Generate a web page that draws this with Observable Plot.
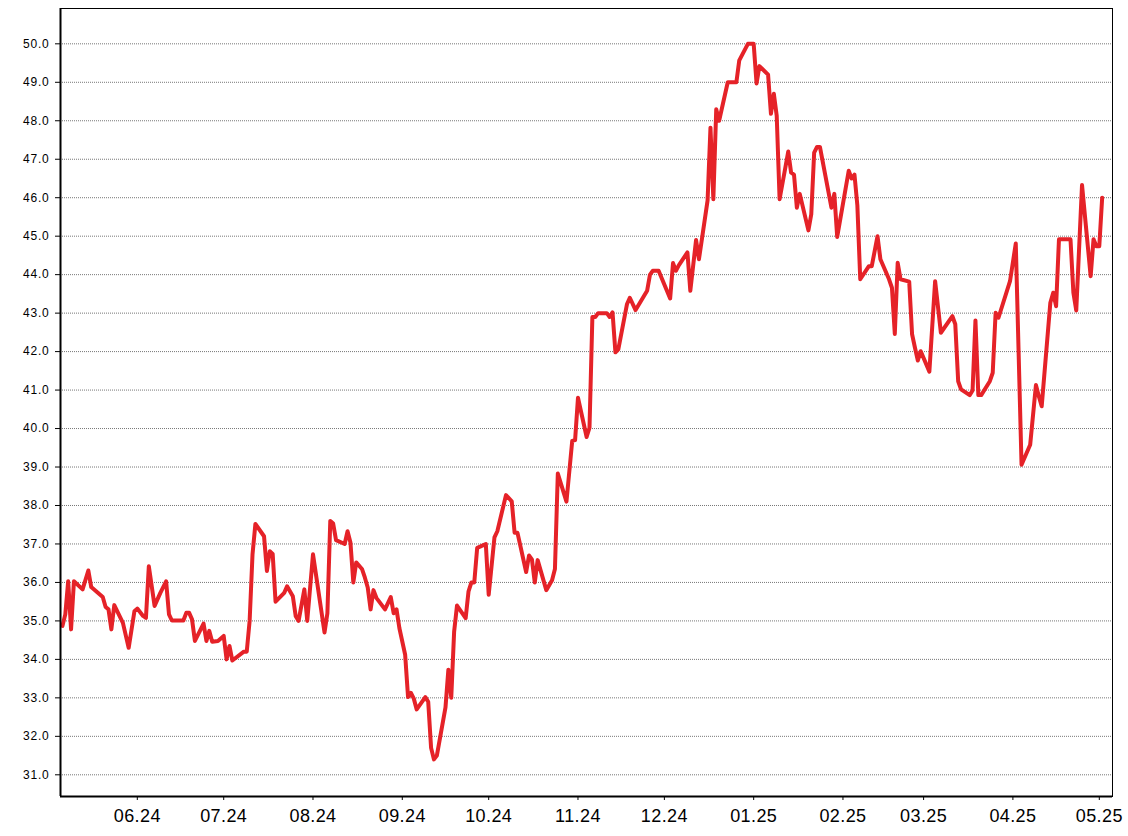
<!DOCTYPE html>
<html>
<head>
<meta charset="utf-8">
<script src="https://cdn.jsdelivr.net/npm/d3@7"></script>
<script src="https://cdn.jsdelivr.net/npm/@observablehq/plot@0.6"></script>
<style>
  html, body { margin: 0; padding: 0; background: #fff; }
  #chart svg { display: block; }
  #chart svg [aria-label="y-axis tick label"] text { letter-spacing: 0.8px; }
  #chart svg [aria-label="x-axis tick label"] text { letter-spacing: 0.4px; }
</style>
</head>
<body>
<div id="chart"></div>
<script>
const dates = [
"2024-05-06","2024-05-07","2024-05-08","2024-05-09","2024-05-10","2024-05-13","2024-05-15","2024-05-16","2024-05-18","2024-05-20",
"2024-05-21","2024-05-22","2024-05-23","2024-05-24","2024-05-27","2024-05-29","2024-05-31","2024-06-01","2024-06-03","2024-06-04",
"2024-06-05","2024-06-07","2024-06-09","2024-06-11","2024-06-12","2024-06-13","2024-06-17","2024-06-18","2024-06-19","2024-06-20",
"2024-06-21","2024-06-24","2024-06-25","2024-06-26","2024-06-27","2024-06-29","2024-07-01","2024-07-02","2024-07-03","2024-07-04",
"2024-07-08","2024-07-09","2024-07-10","2024-07-11","2024-07-12","2024-07-15","2024-07-16","2024-07-17","2024-07-18","2024-07-19",
"2024-07-22","2024-07-23","2024-07-25","2024-07-26","2024-07-27","2024-07-29","2024-07-30","2024-08-01","2024-08-05","2024-08-06",
"2024-08-07","2024-08-08","2024-08-09","2024-08-12","2024-08-13","2024-08-14","2024-08-15","2024-08-16","2024-08-18","2024-08-19",
"2024-08-20","2024-08-21","2024-08-22","2024-08-23","2024-08-26","2024-08-28","2024-08-29","2024-08-30","2024-08-31","2024-09-02",
"2024-09-03","2024-09-04","2024-09-05","2024-09-06","2024-09-09","2024-09-10","2024-09-11","2024-09-12","2024-09-13","2024-09-16",
"2024-09-17","2024-09-18","2024-09-19","2024-09-20","2024-09-23","2024-09-24","2024-09-25","2024-09-26","2024-09-27","2024-09-28",
"2024-09-30","2024-10-01","2024-10-03","2024-10-04","2024-10-07","2024-10-09","2024-10-10","2024-10-11","2024-10-14","2024-10-15",
"2024-10-16","2024-10-17","2024-10-18","2024-10-21","2024-10-23","2024-10-24","2024-10-25","2024-10-28","2024-10-30","2024-10-31",
"2024-11-01","2024-11-04","2024-11-05","2024-11-06","2024-11-07","2024-11-08","2024-11-11","2024-11-12","2024-11-13","2024-11-14",
"2024-11-15","2024-11-18","2024-11-19","2024-11-21","2024-11-25","2024-11-26","2024-11-27","2024-11-29","2024-12-03","2024-12-04",
"2024-12-05","2024-12-06","2024-12-09","2024-12-10","2024-12-12","2024-12-13","2024-12-16","2024-12-17","2024-12-18","2024-12-19",
"2024-12-20","2024-12-23","2024-12-26","2024-12-27","2024-12-30","2025-01-01","2025-01-02","2025-01-03","2025-01-06","2025-01-07",
"2025-01-08","2025-01-09","2025-01-10","2025-01-13","2025-01-14","2025-01-15","2025-01-16","2025-01-17","2025-01-20","2025-01-21",
"2025-01-22","2025-01-23","2025-01-24","2025-01-28","2025-01-29","2025-01-30","2025-02-03","2025-02-04","2025-02-05","2025-02-06",
"2025-02-07","2025-02-10","2025-02-11","2025-02-13","2025-02-14","2025-02-17","2025-02-18","2025-02-19","2025-02-20","2025-02-21",
"2025-02-24","2025-02-25","2025-02-26","2025-02-27","2025-02-28","2025-03-03","2025-03-05","2025-03-07","2025-03-11","2025-03-12",
"2025-03-13","2025-03-14","2025-03-17","2025-03-18","2025-03-19","2025-03-20","2025-03-21","2025-03-24","2025-03-25","2025-03-26",
"2025-03-27","2025-03-31","2025-04-02","2025-04-04","2025-04-07","2025-04-09","2025-04-10","2025-04-11","2025-04-14","2025-04-15",
"2025-04-16","2025-04-17","2025-04-21","2025-04-22","2025-04-23","2025-04-25","2025-04-28","2025-04-29","2025-04-30","2025-05-01",
"2025-05-02"
];
const values = [
34.87,35.17,36.03,34.78,36.03,35.82,36.31,35.88,35.75,35.62,
35.36,35.30,34.78,35.41,34.95,34.30,35.25,35.32,35.13,35.08,
36.42,35.39,35.73,36.03,35.17,35.01,35.01,35.21,35.21,35.04,
34.48,34.93,34.48,34.74,34.46,34.48,34.61,34.00,34.35,33.97,
34.20,34.20,35.00,36.73,37.52,37.20,36.30,36.81,36.74,35.50,
35.73,35.90,35.64,35.12,35.00,35.82,35.00,36.73,34.70,35.20,
37.60,37.53,37.10,37.00,37.33,37.04,36.00,36.52,36.35,36.13,
35.87,35.30,35.80,35.60,35.30,35.62,35.20,35.30,34.81,34.12,
33.02,33.13,32.98,32.70,33.02,32.90,31.70,31.40,31.50,32.75,
33.73,33.00,34.72,35.40,35.07,35.77,36.00,36.00,36.90,36.93,
37.00,35.68,37.17,37.33,38.27,38.11,37.29,37.29,36.27,36.70,
36.60,36.00,36.58,35.80,36.06,36.35,38.83,38.10,39.68,39.70,
40.80,39.78,40.02,42.90,42.90,43.00,43.00,42.90,43.02,41.98,
42.06,43.23,43.40,43.08,43.58,44.00,44.10,44.10,43.38,44.30,
44.10,44.24,44.58,43.58,44.90,44.40,45.93,47.82,45.96,48.30,
48.00,49.00,49.00,49.57,50.00,50.00,48.97,49.42,49.20,48.18,
48.70,48.13,45.96,47.20,46.65,46.60,45.74,46.10,45.15,45.57,
47.17,47.32,47.32,45.74,46.10,44.98,46.70,46.50,46.60,45.80,
43.88,44.22,44.22,45.00,44.40,43.88,43.66,42.46,44.31,43.88,
43.82,42.45,42.10,41.77,42.01,41.48,43.83,42.49,42.92,42.71,
41.23,41.02,40.87,40.99,42.81,40.87,40.87,41.23,41.45,43.01,
42.88,43.83,44.81,39.06,39.58,41.13,40.84,40.58,43.27,43.53,
43.18,44.92,44.92,43.53,43.07,46.33,43.96,44.92,44.74,44.74,
46.00
];
const monthTicks = ["2024-06-01","2024-07-01","2024-08-01","2024-09-01","2024-10-01","2024-11-01",
                    "2024-12-01","2025-01-01","2025-02-01","2025-03-01","2025-04-01","2025-05-01"];
const yTicks = [31,32,33,34,35,36,37,38,39,40,41,42,43,44,45,46,47,48,49,50];
const xDomain = ["2024-05-05T08:00:00Z","2025-05-05T14:00:00Z"];
const yDomain = [30.436, 50.918];

const data = dates.map((d, i) => ({date: new Date(d + "T00:00:00Z"), value: values[i]}));
const xTicks = monthTicks.map(d => new Date(d + "T00:00:00Z"));
const fmt = d3.utcFormat("%m.%y");
const xd = xDomain.map(d => new Date(d));

const chart = Plot.plot({
  width: 1128,
  height: 836,
  marginLeft: 60,
  marginRight: 16,
  marginTop: 8,
  marginBottom: 40,
  style: {fontFamily: "'Liberation Sans', Arial, sans-serif", background: "#fff", color: "#000"},
  x: {type: "utc", domain: xd},
  y: {domain: yDomain},
  marks: [
    Plot.ruleY(yTicks, {stroke: "#777", strokeWidth: 1, strokeDasharray: "1,1"}),
    Plot.frame({stroke: "#000", strokeWidth: 1}),
    Plot.line(data, {x: "date", y: "value", stroke: "#e52228", strokeWidth: 4, strokeLinejoin: "round"}),
    Plot.ruleX([xd[0]], {stroke: "#000", strokeWidth: 2}),
    Plot.ruleY([yDomain[0]], {stroke: "#000", strokeWidth: 2}),
    Plot.axisY({ticks: yTicks, tickFormat: d => d.toFixed(1), tickSize: 5, tickPadding: 6, fontSize: 12, label: null, stroke: "#000"}),
    Plot.axisX({ticks: xTicks, tickFormat: fmt, tickSize: 4, tickPadding: 9, fontSize: 18, label: null, stroke: "#000"})
  ]
});
document.getElementById("chart").appendChild(chart);
</script>
</body>
</html>
